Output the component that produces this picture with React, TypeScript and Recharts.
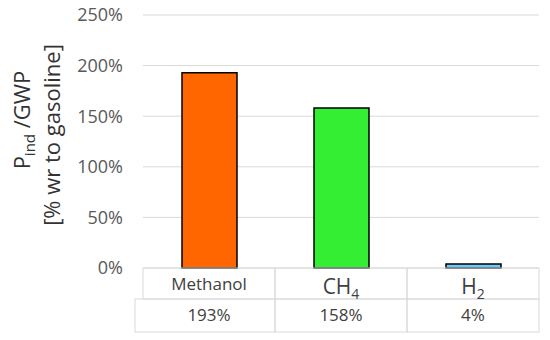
import { BarChart, Bar, XAxis, YAxis, CartesianGrid, Cell } from 'recharts';

const categories = ['Methanol', 'CH4', 'H2'];
const values = [1.93, 1.58, 0.04];
const barColors = ['#FF6600', '#33EE33', '#66CCFF'];
const yTicks = [0, 0.5, 1, 1.5, 2, 2.5];

const data = categories.map((name, i) => ({ name, value: values[i] }));

const W = 550;
const H = 340;
const M = { top: 15, right: 11, bottom: 0, left: 0 };
const Y_AXIS_W = 143;
const X_AXIS_H = 72;
const BAND = (W - M.left - M.right - Y_AXIS_W) / categories.length;
const ROW1 = 31;
const ROW2 = 33;
const GRID = '#d9d9d9';
const FONT = '"Open Sans", sans-serif';

const pct = (v: number) => `${Math.round(v * 100)}%`;

// splits "CH4" into "CH" + subscript "4"
function chemLabel(name: string) {
  const m = name.match(/^(.*?[A-Za-z])(\d+)$/);
  if (!m) return <tspan>{name}</tspan>;
  return (
    <>
      <tspan>{m[1]}</tspan>
      <tspan fontSize={14} dy={5}>{m[2]}</tspan>
    </>
  );
}

function TableTick(props: any) {
  const { x, y, payload, index } = props;
  const left = x - BAND / 2;
  const isChem = /\d$/.test(payload.value);
  return (
    <g>
      <rect x={left} y={y} width={BAND} height={ROW1} fill="none" stroke={GRID} />
      <rect
        x={index === 0 ? left - 8 : left}
        y={y + ROW1}
        width={index === 0 ? BAND + 8 : BAND}
        height={ROW2}
        fill="none"
        stroke={GRID}
      />
      <text
        x={x}
        y={y + (isChem ? 26 : 22)}
        textAnchor="middle"
        fontFamily={FONT}
        fontSize={isChem ? 21 : 17}
        fill="#404040"
      >
        {chemLabel(payload.value)}
      </text>
      <text x={x} y={y + ROW1 + 22} textAnchor="middle" fontFamily={FONT} fontSize={17} fill="#404040">
        {pct(values[index])}
      </text>
    </g>
  );
}

export default function App() {
  return (
    <div style={{ position: 'absolute', left: 0, top: 0, width: W, height: H, background: '#fff' }}>
      <BarChart width={W} height={H} data={data} margin={M}>
        <CartesianGrid vertical={false} stroke={GRID} />
        <XAxis
          dataKey="name"
          height={X_AXIS_H}
          axisLine={false}
          tickLine={false}
          tickSize={0}
          tickMargin={0}
          interval={0}
          tick={<TableTick />}
        />
        <YAxis
          width={Y_AXIS_W}
          domain={[0, 2.5]}
          ticks={yTicks}
          tickFormatter={pct}
          axisLine={false}
          tickLine={false}
          tickSize={0}
          tickMargin={20}
          tick={{ fill: '#595959', fontSize: 18, fontFamily: FONT }}
        />
        <Bar dataKey="value" barSize={55} stroke="#000" strokeWidth={1.5} isAnimationActive={false}>
          {data.map((d, i) => (
            <Cell key={d.name} fill={barColors[i]} />
          ))}
        </Bar>
      </BarChart>
      <svg width={W} height={H} style={{ position: 'absolute', left: 0, top: 0, pointerEvents: 'none' }}>
        <text transform="rotate(-90, 30, 120)" x={30} y={120} textAnchor="middle" fontFamily={FONT} fontSize={22} fill="#333">
          <tspan>P</tspan>
          <tspan fontSize={15} dy={5}>ind</tspan>
          <tspan dy={-5}> /GWP</tspan>
        </text>
        <text transform="rotate(-90, 60, 135)" x={60} y={135} textAnchor="middle" fontFamily={FONT} fontSize={22} fill="#333">
          [% wr to gasoline]
        </text>
      </svg>
    </div>
  );
}
